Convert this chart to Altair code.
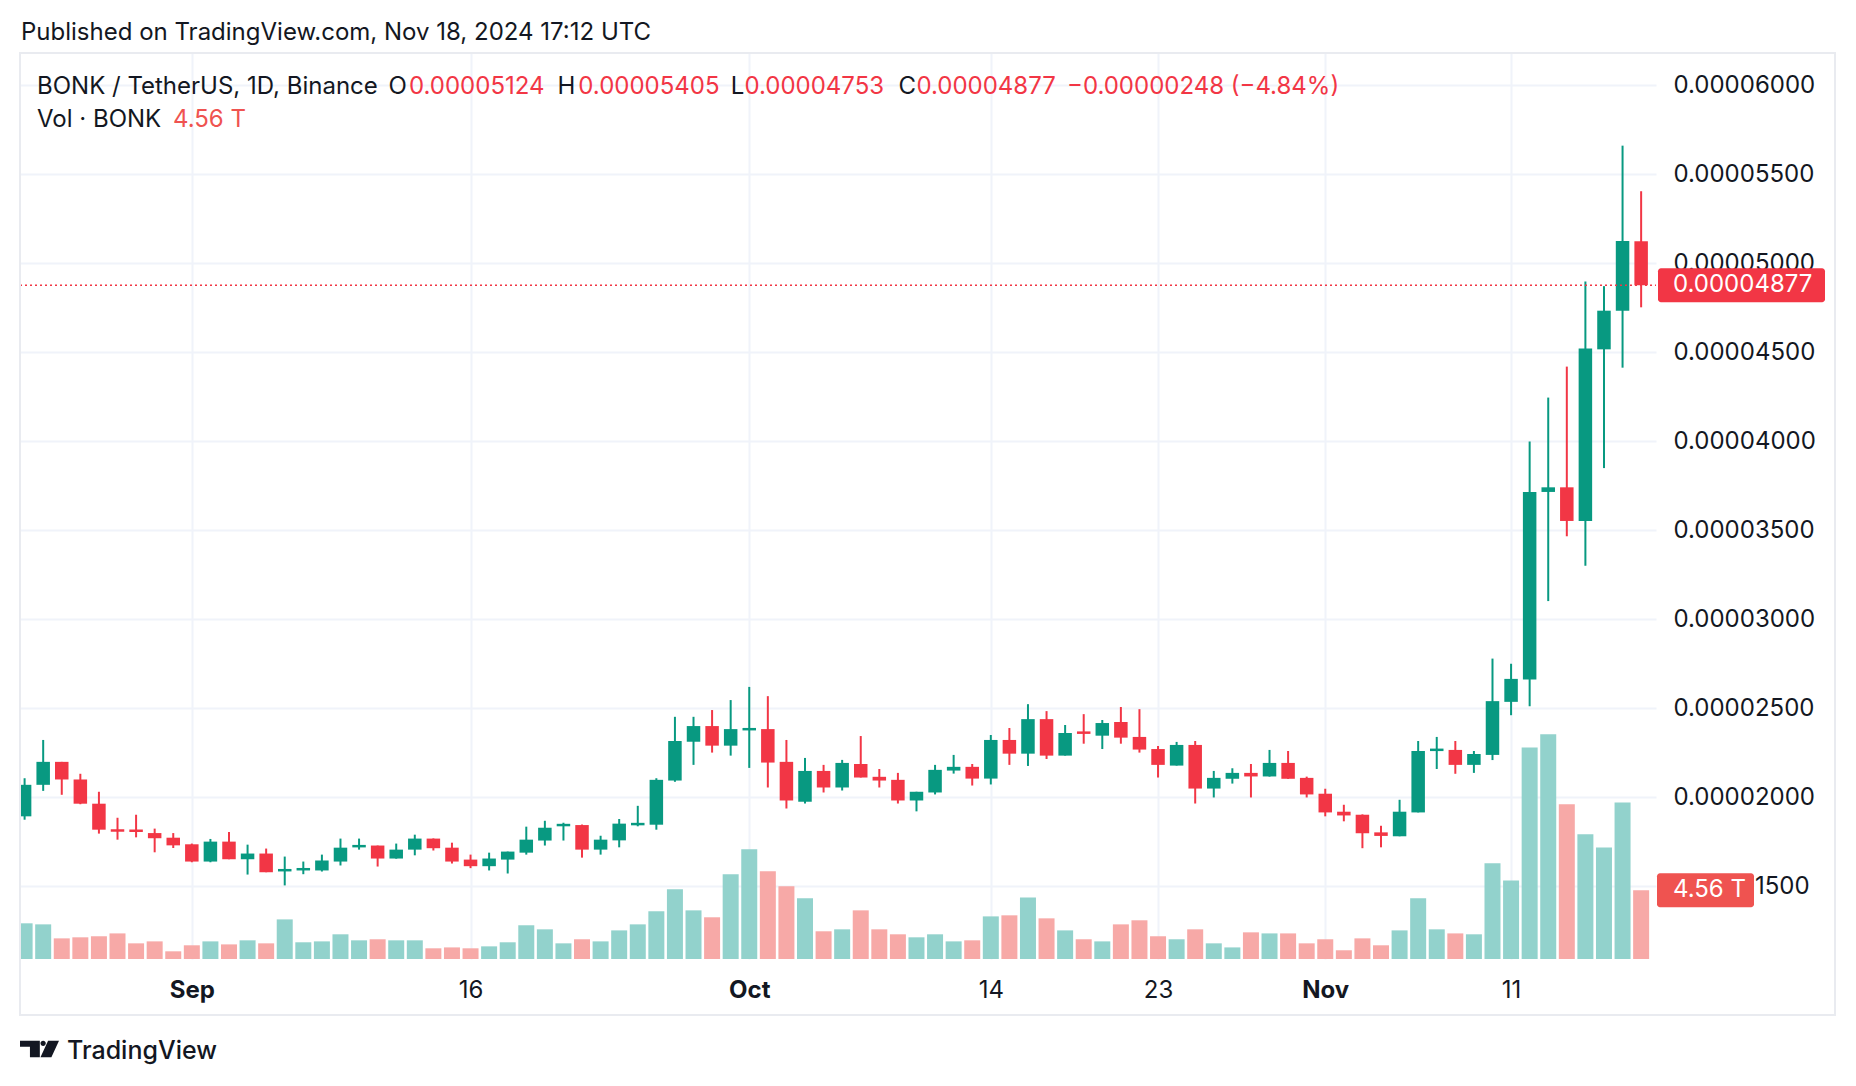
import altair as alt
import pandas as pd

# ---------------- data (prices in units of 1e-8 USDT, volume in trillions) ----------------
START_DATE = "2024-08-23"
PRICE_UNIT = 1e-8

OPEN = [1894, 2071, 2200, 2101, 1965, 1819, 1818, 1800, 1774,
        1737, 1640, 1752, 1653, 1685, 1588, 1593, 1590, 1640, 1722, 1730, 1657, 1707, 1769, 1718,
        1651, 1614, 1651, 1690, 1758, 1841, 1845, 1707, 1759, 1845, 1847, 2095, 2313, 2401, 2291,
        2379, 2384, 2200, 1976, 2149, 2056, 2188, 2116, 2099, 1983, 2028, 2151, 2172, 2106, 2323,
        2246, 2440, 2235, 2368, 2347, 2424, 2340, 2272, 2179, 2295, 2050, 2105, 2138, 2118, 2194, 2110,
        2021, 1920, 1903, 1804, 1782, 1916, 2263, 2267, 2183, 2239, 2537, 2662, 3716, 3742, 3553,
        4517, 4734, 5124]
HIGH = [2108, 2323, 2200, 2133, 2032, 1886, 1903, 1825, 1800,
        1741, 1767, 1806, 1735, 1713, 1668, 1640, 1679, 1769, 1769, 1730, 1741, 1791, 1770, 1746,
        1679, 1690, 1696, 1836, 1869, 1858, 1848, 1785, 1879, 1953, 2108, 2453, 2453, 2491, 2547,
        2621, 2569, 2323, 2222, 2183, 2211, 2345, 2160, 2138, 2032, 2183, 2239, 2188, 2351, 2390,
        2524, 2485, 2407, 2468, 2435, 2508, 2496, 2289, 2312, 2317, 2149, 2164, 2188, 2267, 2261, 2117,
        2049, 1959, 1905, 1841, 1987, 2317, 2340, 2317, 2261, 2780, 2751, 4000, 4246, 4420, 4898,
        4872, 5661, 5405]
LOW = [1875, 2037, 2015, 1962, 1797, 1763, 1776, 1692, 1716,
       1636, 1636, 1653, 1567, 1580, 1506, 1569, 1584, 1618, 1707, 1612, 1656, 1675, 1702, 1629,
       1603, 1590, 1573, 1679, 1730, 1758, 1662, 1679, 1720, 1838, 1819, 2088, 2183, 2252, 2235,
       2166, 2056, 1938, 1966, 2028, 2039, 2112, 2056, 1966, 1922, 2017, 2134, 2067, 2073, 2183,
       2177, 2216, 2235, 2302, 2272, 2302, 2252, 2112, 2179, 1966, 2000, 2078, 2000, 2117, 2104, 2000,
       1894, 1866, 1715, 1720, 1782, 1916, 2160, 2133, 2138, 2210, 2462, 2513, 3103, 3467, 3301,
       3850, 4414, 4753]
CLOSE = [2071, 2200, 2101, 1965, 1819, 1810, 1808, 1771, 1731,
         1640, 1752, 1653, 1685, 1580, 1595, 1601, 1646, 1718, 1731, 1657, 1707, 1769, 1715, 1640,
         1614, 1657, 1696, 1763, 1830, 1849, 1707, 1763, 1853, 1856, 2099, 2317, 2401, 2291, 2384,
         2388, 2196, 1983, 2149, 2056, 2194, 2112, 2095, 1983, 2032, 2155, 2172, 2106, 2323, 2246,
         2440, 2235, 2362, 2360, 2418, 2336, 2269, 2183, 2295, 2050, 2110, 2138, 2118, 2194, 2105, 2017,
         1916, 1899, 1799, 1784, 1920, 2261, 2272, 2183, 2244, 2541, 2666, 3716, 3742, 3553, 4521,
         4734, 5125, 4877]
VOLUME_T = [2.37, 2.30, 1.37, 1.44, 1.51, 1.70, 1.04, 1.17, 0.51,
            0.91, 1.17, 0.97, 1.24, 1.04, 2.63, 1.11, 1.17, 1.64, 1.24, 1.31, 1.24, 1.24, 0.71, 0.77,
            0.71, 0.84, 1.11, 2.24, 1.97, 1.04, 1.31, 1.17, 1.90, 2.30, 3.17, 4.63, 3.23, 2.77, 5.62,
            7.28, 5.82, 4.83, 4.03, 1.84, 1.97, 3.23, 1.97, 1.64, 1.44, 1.64, 1.17, 1.24, 2.83, 2.90,
            4.09, 2.70, 1.90, 1.31, 1.17, 2.30, 2.57, 1.51, 1.31, 1.97, 1.04, 0.77, 1.77, 1.70, 1.70, 1.04,
            1.31, 0.58, 1.37, 0.91, 1.90, 4.03, 1.97, 1.70, 1.64, 6.35, 5.22, 14.05, 14.92, 10.27, 8.28,
            7.41, 10.40, 4.56]

DATE_TICK_DATES = ["2024-09-01", "2024-09-16", "2024-10-01", "2024-10-14",
                   "2024-10-23", "2024-11-01", "2024-11-11"]
DATE_TICK_LABELS = ["Sep", "16", "Oct", "14", "23", "Nov", "11"]
DATE_TICK_BOLD = ["Sep", "Oct", "Nov"]
PRICE_TICKS = [0.000015, 0.00002, 0.000025, 0.00003, 0.000035, 0.00004,
               0.000045, 0.00005, 0.000055, 0.00006]

PUBLISHED = "Published on TradingView.com, Nov 18, 2024 17:12 UTC"
SYMBOL = "BONK / TetherUS, 1D, Binance"
VOL_TITLE = "Vol · BONK"

# ---------------- style / layout ----------------
FONT = "Inter"
FS = 24
TXT = "#131722"
UP, DOWN = "#089981", "#F23645"
VUP, VDOWN = "#92D2CC", "#F7A9A7"
VTAG = "#EF5350"
GRID = "#F0F3FA"
BORDER = "#E9EBF0"
W, H = 1636, 906
X_DOMAIN = [-0.2476, 87.80]
PRICE_DOMAIN = [1.0927e-5, 6.1814e-5]
VOL_DOMAIN = [0, 60.16]
MIN_BODY = 1.4e-7

n = len(OPEN)
dates = pd.date_range(START_DATE, periods=n, freq="D")
df = pd.DataFrame({
    "i": list(range(n)),
    "date": dates.strftime("%Y-%m-%d"),
    "o": [v * PRICE_UNIT for v in OPEN],
    "h": [v * PRICE_UNIT for v in HIGH],
    "l": [v * PRICE_UNIT for v in LOW],
    "c": [v * PRICE_UNIT for v in CLOSE],
    "v": VOLUME_T,
})
df["up"] = df["c"] >= df["o"]
df["cc"] = df["up"].map({True: UP, False: DOWN})
df["vc"] = df["up"].map({True: VUP, False: VDOWN})
df["vlabel"] = df["v"].map(lambda x: f"{x:.2f} T")

tick_idx = [int((pd.Timestamp(d) - dates[0]).days) for d in DATE_TICK_DATES]
label_expr = "''"
for idx, lab in zip(reversed(tick_idx), reversed(DATE_TICK_LABELS)):
    label_expr = f"datum.value == {idx} ? '{lab}' : ({label_expr})"
bold_test = " || ".join(f"datum.value == {idx}" for idx, lab in zip(tick_idx, DATE_TICK_LABELS)
                        if lab in DATE_TICK_BOLD)

xs = alt.Scale(domain=X_DOMAIN, nice=False, zero=False, padding=0)
ps = alt.Scale(domain=PRICE_DOMAIN, nice=False, zero=False, padding=0)
vs = alt.Scale(domain=VOL_DOMAIN, nice=False, zero=False, padding=0)

x_axis = alt.Axis(values=tick_idx, labelExpr=label_expr, title=None, grid=True,
                  gridColor=GRID, gridWidth=2, ticks=False, domain=False,
                  labelFont=FONT, labelFontSize=FS, labelColor=TXT,
                  labelBaseline="middle", labelPadding=31, zindex=0,
                  labelFontWeight={"condition": {"test": bold_test, "value": "bold"},
                                   "value": "normal"})
X = alt.X("i:Q", scale=xs, axis=x_axis)

y_axis = alt.Axis(values=PRICE_TICKS, format=".8f", orient="right", title=None,
                  grid=True, gridColor=GRID, gridWidth=2, ticks=False, domain=False,
                  labelFont=FONT, labelFontSize=FS, labelColor=TXT, labelAlign="left",
                  labelBaseline="middle", labelPadding=17, zindex=0)

base = alt.Chart(df)

volume = base.mark_bar(width=16, clip=True).encode(
    x=X, y=alt.Y("v:Q", scale=vs, axis=None, stack=None),
    color=alt.Color("vc:N", scale=None))

wicks = base.mark_rule(strokeWidth=2, clip=True).encode(
    x=X, y=alt.Y("l:Q", scale=ps, axis=y_axis), y2="h:Q",
    color=alt.Color("cc:N", scale=None))

bodies = base.transform_calculate(
    lo="min(datum.o, datum.c)", hi="max(datum.o, datum.c)"
).transform_calculate(
    mid="(datum.lo + datum.hi) / 2"
).transform_calculate(
    bl=f"datum.hi - datum.lo < {MIN_BODY} ? datum.mid - {MIN_BODY / 2} : datum.lo",
    bh=f"datum.hi - datum.lo < {MIN_BODY} ? datum.mid + {MIN_BODY / 2} : datum.hi",
).mark_bar(width=13.5, clip=True).encode(
    x=X, y=alt.Y("bl:Q", scale=ps, axis=None), y2="bh:Q",
    color=alt.Color("cc:N", scale=None))

last = df.tail(1)
prev_close = df["c"].iloc[-2]
lc = last["c"].iloc[0]
last_color = last["cc"].iloc[0]
chg = lc - prev_close
pct = chg / prev_close * 100

last_chart = alt.Chart(last)
price_line = last_chart.mark_rule(strokeDash=[2, 3], strokeWidth=1.5, color=last_color).encode(
    y=alt.Y("c:Q", scale=ps, axis=None), x=alt.value(0), x2=alt.value(W))
price_tag = last_chart.mark_rect(color=last_color, cornerRadius=3, yOffset=-17, y2Offset=17).encode(
    x=alt.value(1638), x2=alt.value(1805), y=alt.Y("c:Q", scale=ps, axis=None), y2="c:Q")
price_tag_text = last_chart.mark_text(align="left", baseline="middle", color="white",
                                      font=FONT, fontSize=FS).encode(
    x=alt.value(1653), y=alt.Y("c:Q", scale=ps, axis=None), text=alt.Text("c:Q", format=".8f"))
vol_tag = last_chart.mark_rect(color=VTAG, cornerRadius=3, yOffset=-17, y2Offset=17).encode(
    x=alt.value(1637), x2=alt.value(1734), y=alt.Y("v:Q", scale=vs, axis=None), y2="v:Q")
vol_tag_text = last_chart.mark_text(align="left", baseline="middle", color="white",
                                    font=FONT, fontSize=FS).encode(
    x=alt.value(1653), y=alt.Y("v:Q", scale=vs, axis=None), text="vlabel:N")

one = alt.Chart(pd.DataFrame({"k": [0]}))


def txt(s, x, y, color=TXT, size=FS, weight="normal"):
    return one.mark_text(align="left", baseline="middle", font=FONT, fontSize=size,
                         fontWeight=weight, color=color).encode(
        x=alt.value(x), y=alt.value(y), text=alt.value(s))


def fmt(v):
    return f"{v:.8f}"


HY, VY = 34, 67
sign = "\u2212" if chg < 0 else "+"
header = [
    txt(PUBLISHED, 1, -20, size=24),
    txt(SYMBOL, 17, HY),
    txt("O", 368.5, HY), txt(fmt(last["o"].iloc[0]), 389, HY, color=last_color),
    txt("H", 537.5, HY), txt(fmt(last["h"].iloc[0]), 558.3, HY, color=last_color),
    txt("L", 710.7, HY), txt(fmt(last["l"].iloc[0]), 724.4, HY, color=last_color),
    txt("C", 878.6, HY), txt(fmt(lc), 896.4, HY, color=last_color),
    txt(f"{sign}{fmt(abs(chg))} ({sign}{abs(pct):.2f}%)", 1047, HY, color=last_color),
    txt(VOL_TITLE, 17, VY), txt(last["vlabel"].iloc[0], 153, VY, color=VTAG),
    txt("TradingView", 47, 998, size=25, weight=500),
]

border = one.mark_rect(filled=False, stroke=BORDER, strokeWidth=2).encode(
    x=alt.value(0), x2=alt.value(1815), y=alt.value(0), y2=alt.value(962))

LOGO = ("M-1,-0.425 L0.017,-0.425 L0.017,0.425 L-0.49,0.425 L-0.49,-0.12 L-1,-0.12 Z "
        "M0.05,-0.29 A0.136,0.136 0 1,0 0.322,-0.29 A0.136,0.136 0 1,0 0.05,-0.29 Z "
        "M0.44,-0.425 L1,-0.425 L0.61,0.425 L0.05,0.425 Z")
logo = one.mark_point(shape=LOGO, size=1521, filled=True, color=TXT, opacity=1, strokeWidth=0).encode(
    x=alt.value(19.5), y=alt.value(996))

chart = alt.layer(
    wicks, volume, bodies, price_line, price_tag, price_tag_text, vol_tag, vol_tag_text,
    border, logo, *header
).resolve_scale(y="independent").properties(
    width=W, height=H,
    autosize=alt.AutoSizeParams(type="none"),
    padding={"left": 12, "top": 45, "right": 192, "bottom": 112},
    background="white",
).configure_view(strokeWidth=0)

chart.save("out.html", embed_options={"renderer": "svg", "actions": False})
